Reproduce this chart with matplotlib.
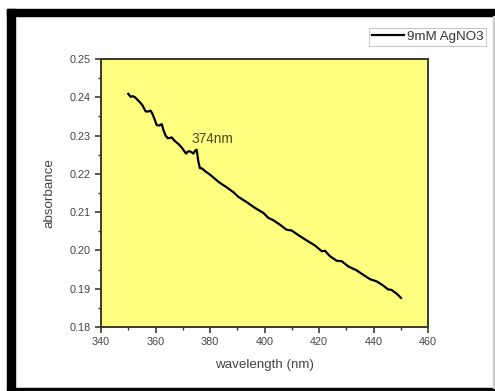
import numpy as np
import matplotlib
matplotlib.use("Agg")
import matplotlib.pyplot as plt
from matplotlib.patches import Rectangle

plt.rcParams["font.family"] = ["Liberation Sans", "DejaVu Sans"]

# wavelength (nm) and absorbance
wavelength = [350.0, 350.9, 351.6, 352.5, 353.3, 354.3, 355.3, 356.4, 357.4, 358.2,
              359.0, 359.8, 360.4, 361.3, 362.3, 362.9, 363.7, 364.5, 365.3, 366.0,
              366.9, 368.4, 369.6, 370.6, 371.2, 372.0, 372.9, 373.9, 374.6, 375.1,
              375.7, 376.3, 377.1, 378.2, 380.0, 381.8, 383.7, 386.1, 388.6, 390.4,
              393.5, 396.5, 399.6, 401.4, 403.2, 405.7, 408.1, 410.0, 412.4, 415.5,
              418.5, 421.0, 422.2, 424.0, 426.5, 428.3, 430.8, 433.8, 436.3, 438.7,
              441.2, 443.6, 445.4, 446.6, 448.5, 450.1]
absorbance = [0.2409, 0.2401, 0.2403, 0.2400, 0.2394, 0.2387, 0.2378, 0.2363, 0.2363, 0.2365,
              0.2355, 0.2340, 0.2328, 0.2326, 0.2330, 0.2315, 0.2300, 0.2293, 0.2294, 0.2295,
              0.2287, 0.2278, 0.2269, 0.2259, 0.2253, 0.2259, 0.2258, 0.2253, 0.2261, 0.2263,
              0.2233, 0.2215, 0.2214, 0.2207, 0.2198, 0.2187, 0.2176, 0.2165, 0.2152, 0.2140,
              0.2126, 0.2111, 0.2098, 0.2085, 0.2079, 0.2067, 0.2054, 0.2052, 0.2040, 0.2026,
              0.2013, 0.1998, 0.1999, 0.1985, 0.1973, 0.1972, 0.1958, 0.1948, 0.1936, 0.1925,
              0.1919, 0.1908, 0.1898, 0.1897, 0.1887, 0.1876]
series_name = "9mM AgNO3"
peak_label = "374nm"

W, H = 495, 391
fig = plt.figure(figsize=(W / 100, H / 100), dpi=100)
fig.patch.set_facecolor("white")

# black frame around the picture
def band(x0, y0, x1, y1, c="black"):
    fig.patches.append(Rectangle((x0 / W, 1 - y1 / H), (x1 - x0) / W, (y1 - y0) / H,
                                 transform=fig.transFigure, color=c, zorder=0))

band(7, 9, W, 16)
band(7, 9, 15, H)
band(7, 388, W, 390)
band(493, 16, 494, 388, "#cccccc")

ax = fig.add_axes([101 / W, 1 - 327 / H, (428 - 101) / W, (327 - 59) / H])
ax.set_facecolor("#ffff80")
ax.plot(wavelength, absorbance, color="black", lw=1.6, label=series_name)

ax.set_xlim(340, 460)
ax.set_ylim(0.18, 0.25)
ax.set_xticks(np.arange(340, 461, 20))
ax.set_xticks(np.arange(350, 460, 20), minor=True)
ax.set_yticks(np.arange(0.18, 0.2501, 0.01))
ax.set_yticks(np.arange(0.185, 0.25, 0.01), minor=True)
ax.set_yticklabels([f"{v:.2f}" for v in np.arange(0.18, 0.2501, 0.01)])

for s in ax.spines.values():
    s.set_color("#3a3a2a")
    s.set_linewidth(1.4)
ax.tick_params(which="both", direction="out", top=False, right=False,
               colors="#3a3a2a", labelcolor="#444444", labelsize=7.8)
ax.tick_params(which="major", length=4, width=1.2)
ax.tick_params(which="minor", length=2.5, width=1.0)

ax.set_xlabel("wavelength (nm)", fontsize=9.6, color="#444444", labelpad=8)
ax.set_ylabel("absorbance", fontsize=9.6, color="#444444", labelpad=10)

ax.text(373.3, 0.2292, peak_label, fontsize=9.8, color="#4a4a22",
        ha="left", va="center")

leg = fig.legend(loc="upper right", bbox_to_anchor=(486 / W, 1 - 28 / H),
                 fontsize=9.6, frameon=True, fancybox=False, handlelength=2.4,
                 handletextpad=0.2, borderpad=0.2, borderaxespad=0)
leg.get_frame().set_edgecolor("#bbbbbb")
leg.get_frame().set_linewidth(0.8)
for t in leg.get_texts():
    t.set_color("#333333")

fig.savefig("out.png", dpi=100)
